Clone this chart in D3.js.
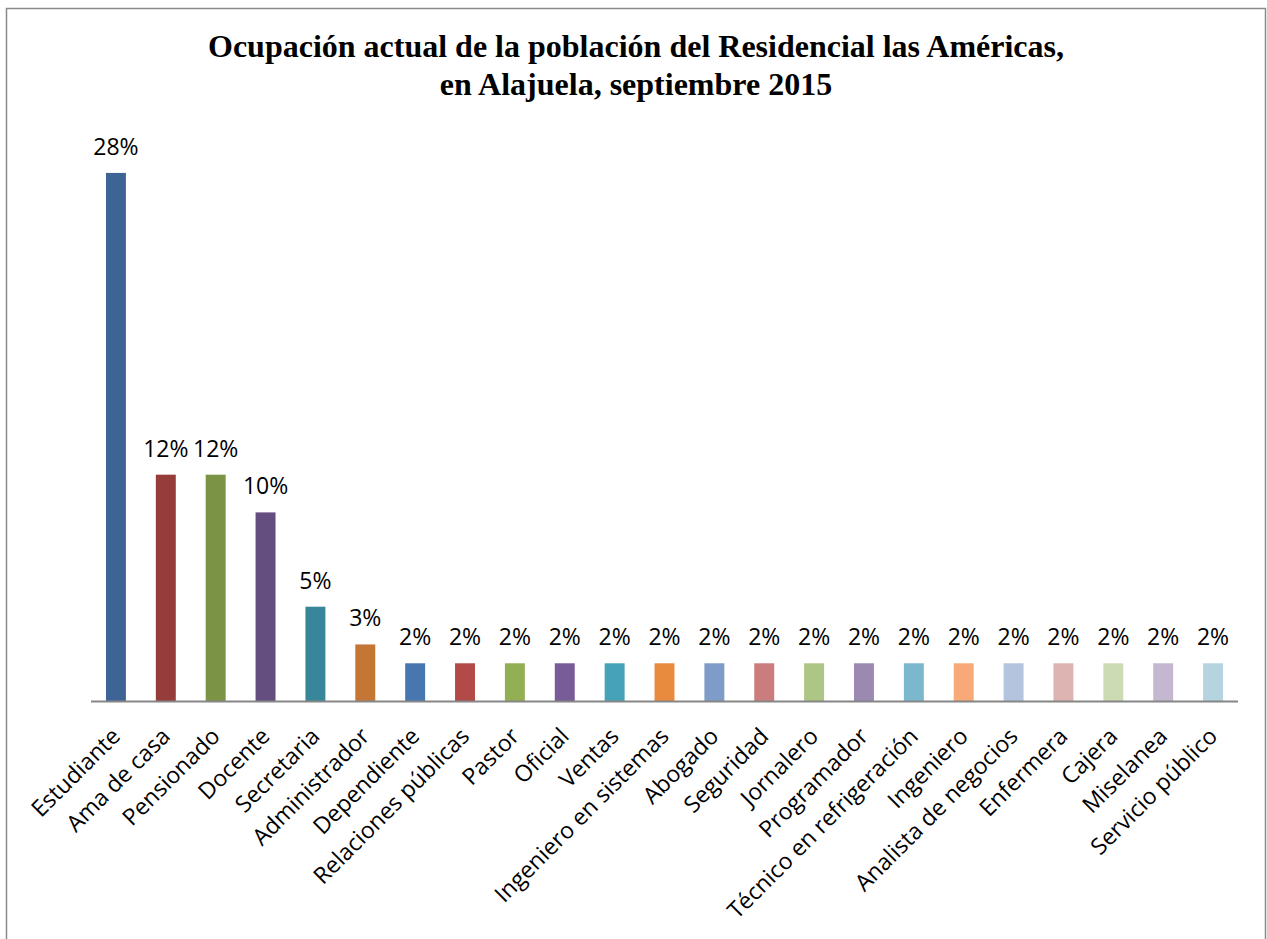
<!DOCTYPE html>
<html>
<head>
<meta charset="utf-8">
<script src="https://cdn.jsdelivr.net/npm/d3@7"></script>
<style>
  body { margin: 0; background: #fff; }
  svg { display: block; }
  .title { font-family: "Liberation Serif", "Times New Roman", serif; font-weight: bold; font-size: 32px; }
  .val { font-family: "Open Sans", "DejaVu Sans", sans-serif; font-size: 23px; fill: #000; }
  .cat { font-family: "Open Sans", "DejaVu Sans", sans-serif; font-size: 23px; fill: #000; }
</style>
</head>
<body>
<script>
// data
const categories = [
  "Estudiante", "Ama de casa", "Pensionado", "Docente", "Secretaria",
  "Administrador", "Dependiente", "Relaciones públicas", "Pastor", "Oficial",
  "Ventas", "Ingeniero en sistemas", "Abogado", "Seguridad", "Jornalero",
  "Programador", "Técnico en refrigeración", "Ingeniero", "Analista de negocios",
  "Enfermera", "Cajera", "Miselanea", "Servicio público"
];
const values = [28, 12, 12, 10, 5, 3, 2, 2, 2, 2, 2, 2, 2, 2, 2, 2, 2, 2, 2, 2, 2, 2, 2];
const barColors = [
  "#3E6496", "#963C3A", "#7A9344", "#634E7F", "#38869A", "#C47734",
  "#4877B0", "#B24A48", "#92AF54", "#775C97", "#46A2B9", "#E98B3E",
  "#7F9CC8", "#CB7C7C", "#ADC585", "#9B89B2", "#7BB8CE", "#F8A978",
  "#B4C4DE", "#DEB4B3", "#CDDBB5", "#C3B8D0", "#B6D4DF"
];
const titleLines = [
  "Ocupación actual de la población del Residencial las Américas,",
  "en Alajuela, septiembre 2015"
];

const W = 1267, H = 939;
const margin = { top: 135, left: 91, right: 29, bottom: 238 };

const svg = d3.select("body").append("svg")
  .attr("width", W)
  .attr("height", H);

// chart frame
svg.append("rect")
  .attr("x", 6.5).attr("y", 8.5)
  .attr("width", 1259).attr("height", 960)
  .attr("fill", "none")
  .attr("stroke", "#8a8a8a")
  .attr("stroke-width", 1.5);

// title
svg.append("text")
  .attr("class", "title")
  .attr("text-anchor", "middle")
  .selectAll("tspan")
  .data(titleLines)
  .join("tspan")
  .attr("x", 636)
  .attr("y", (d, i) => 57 + i * 38)
  .text(d => d);

const x = d3.scaleBand()
  .domain(categories)
  .range([margin.left, W - margin.right])
  .paddingInner(0.6)
  .paddingOuter(0.3);

const y = d3.scaleLinear()
  .domain([0, 30])
  .range([701, 701 - 30 * 18.86]);

const chart = svg.append("g");

chart.selectAll("rect.bar")
  .data(values)
  .join("rect")
  .attr("class", "bar")
  .attr("x", (d, i) => x(categories[i]))
  .attr("y", d => y(d))
  .attr("width", x.bandwidth())
  .attr("height", d => y(0) - y(d))
  .attr("fill", (d, i) => barColors[i]);

// value labels
chart.selectAll("text.val")
  .data(values)
  .join("text")
  .attr("class", "val")
  .attr("text-anchor", "middle")
  .attr("x", (d, i) => x(categories[i]) + x.bandwidth() / 2)
  .attr("y", d => y(d) - 18)
  .text(d => d + "%");

// x axis
const xAxis = d3.axisBottom(x).tickSize(0).tickPadding(0);
const xAxisG = svg.append("g")
  .attr("transform", `translate(0, ${y(0)})`)
  .call(xAxis);

xAxisG.select(".domain")
  .attr("d", `M${margin.left},0.5H${W - margin.right}`)
  .attr("stroke", "#868686")
  .attr("stroke-width", 2);

xAxisG.selectAll(".tick text")
  .attr("class", "cat")
  .attr("font-size", null)
  .attr("font-family", null)
  .attr("fill", "#000")
  .attr("text-anchor", "end")
  .attr("dy", "0.35em")
  .attr("y", 0)
  .attr("transform", "translate(0, 31) rotate(-45)");
</script>
</body>
</html>
